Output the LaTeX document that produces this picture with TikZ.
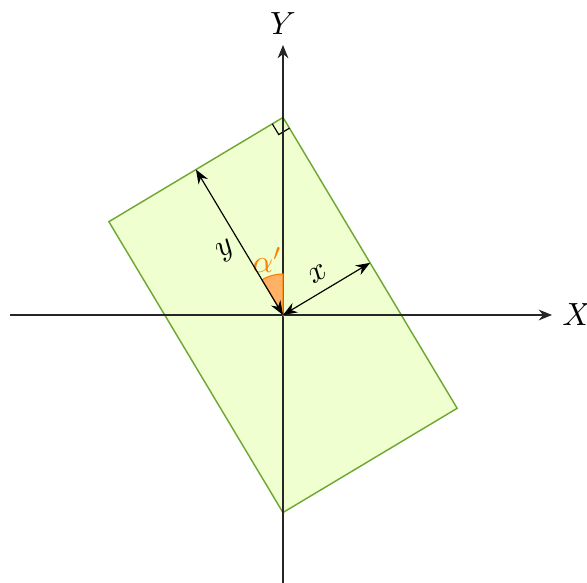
\documentclass[tikz,border=0pt]{standalone}
\usepackage{amsmath,amssymb}
\usepackage{xcolor}
\usepackage{tikz}
\usetikzlibrary{arrows.meta,positioning,calc}

\definecolor{platefill}{RGB}{240,255,208}
\definecolor{plateedge}{RGB}{112,168,52}

\begin{document}
\begin{tikzpicture}[x=0.6cm, y=0.6cm, every node/.style={font=\fontsize{11}{13}\selectfont}, axis/.style={draw=black!85, -{Stealth[length=1.6mm, width=1.3mm]}}, plate/.style={draw=plateedge, fill=platefill, line width=0.5pt}, dim/.style={{Stealth[length=1.7mm, width=1.3mm]}-{Stealth[length=1.7mm, width=1.3mm]}}, wedge/.style={draw=orange, fill=orange!60}]
    \useasboundingbox (-5.66,-5.34) rectangle (6.08,6.3);
    \coordinate (O) at (0,0);

    % rotated plate with its two distances
    \begin{scope}[rotate=30.9, transform shape]
      \draw[plate] (-2.03,-3.39) rectangle (2.03,3.39);
      \coordinate (xe) at (2.03,0);
      \coordinate (ye) at (0,3.39);
      \coordinate (c) at (2.03,3.39);
      \draw (2.03-0.25,3.39) -- (2.03-0.25,3.39-0.25) -- (2.03,3.39-0.25);
    \end{scope}

    % axes
    \coordinate (xl) at (-5.46,0);
    \coordinate (xr) at (5.38,0);
    \coordinate (yb) at (0,-5.36);
    \coordinate (yt) at (0,5.4);
    \draw[axis] (xl) -- (xr) node[right] (lX) {$X$};
    \draw[axis] (yb) -- (yt) node[above] (lY) {$Y$};

    % angle
    \fill[wedge] (O) -- (90:0.82) arc[start angle=90, end angle=120.9, radius=0.82] -- cycle;
    \node[text=orange] (la) at (106:1.15) {$\alpha'$};

    \begin{scope}[rotate=30.9, transform shape]
      \draw[dim] (O) -- (xe) node[midway, above] (lx) {$x$};
      \draw[dim] (O) -- (ye) node[midway, left, xshift=1pt] (ly) {$y$};
    \end{scope}
\end{tikzpicture}
\end{document}
